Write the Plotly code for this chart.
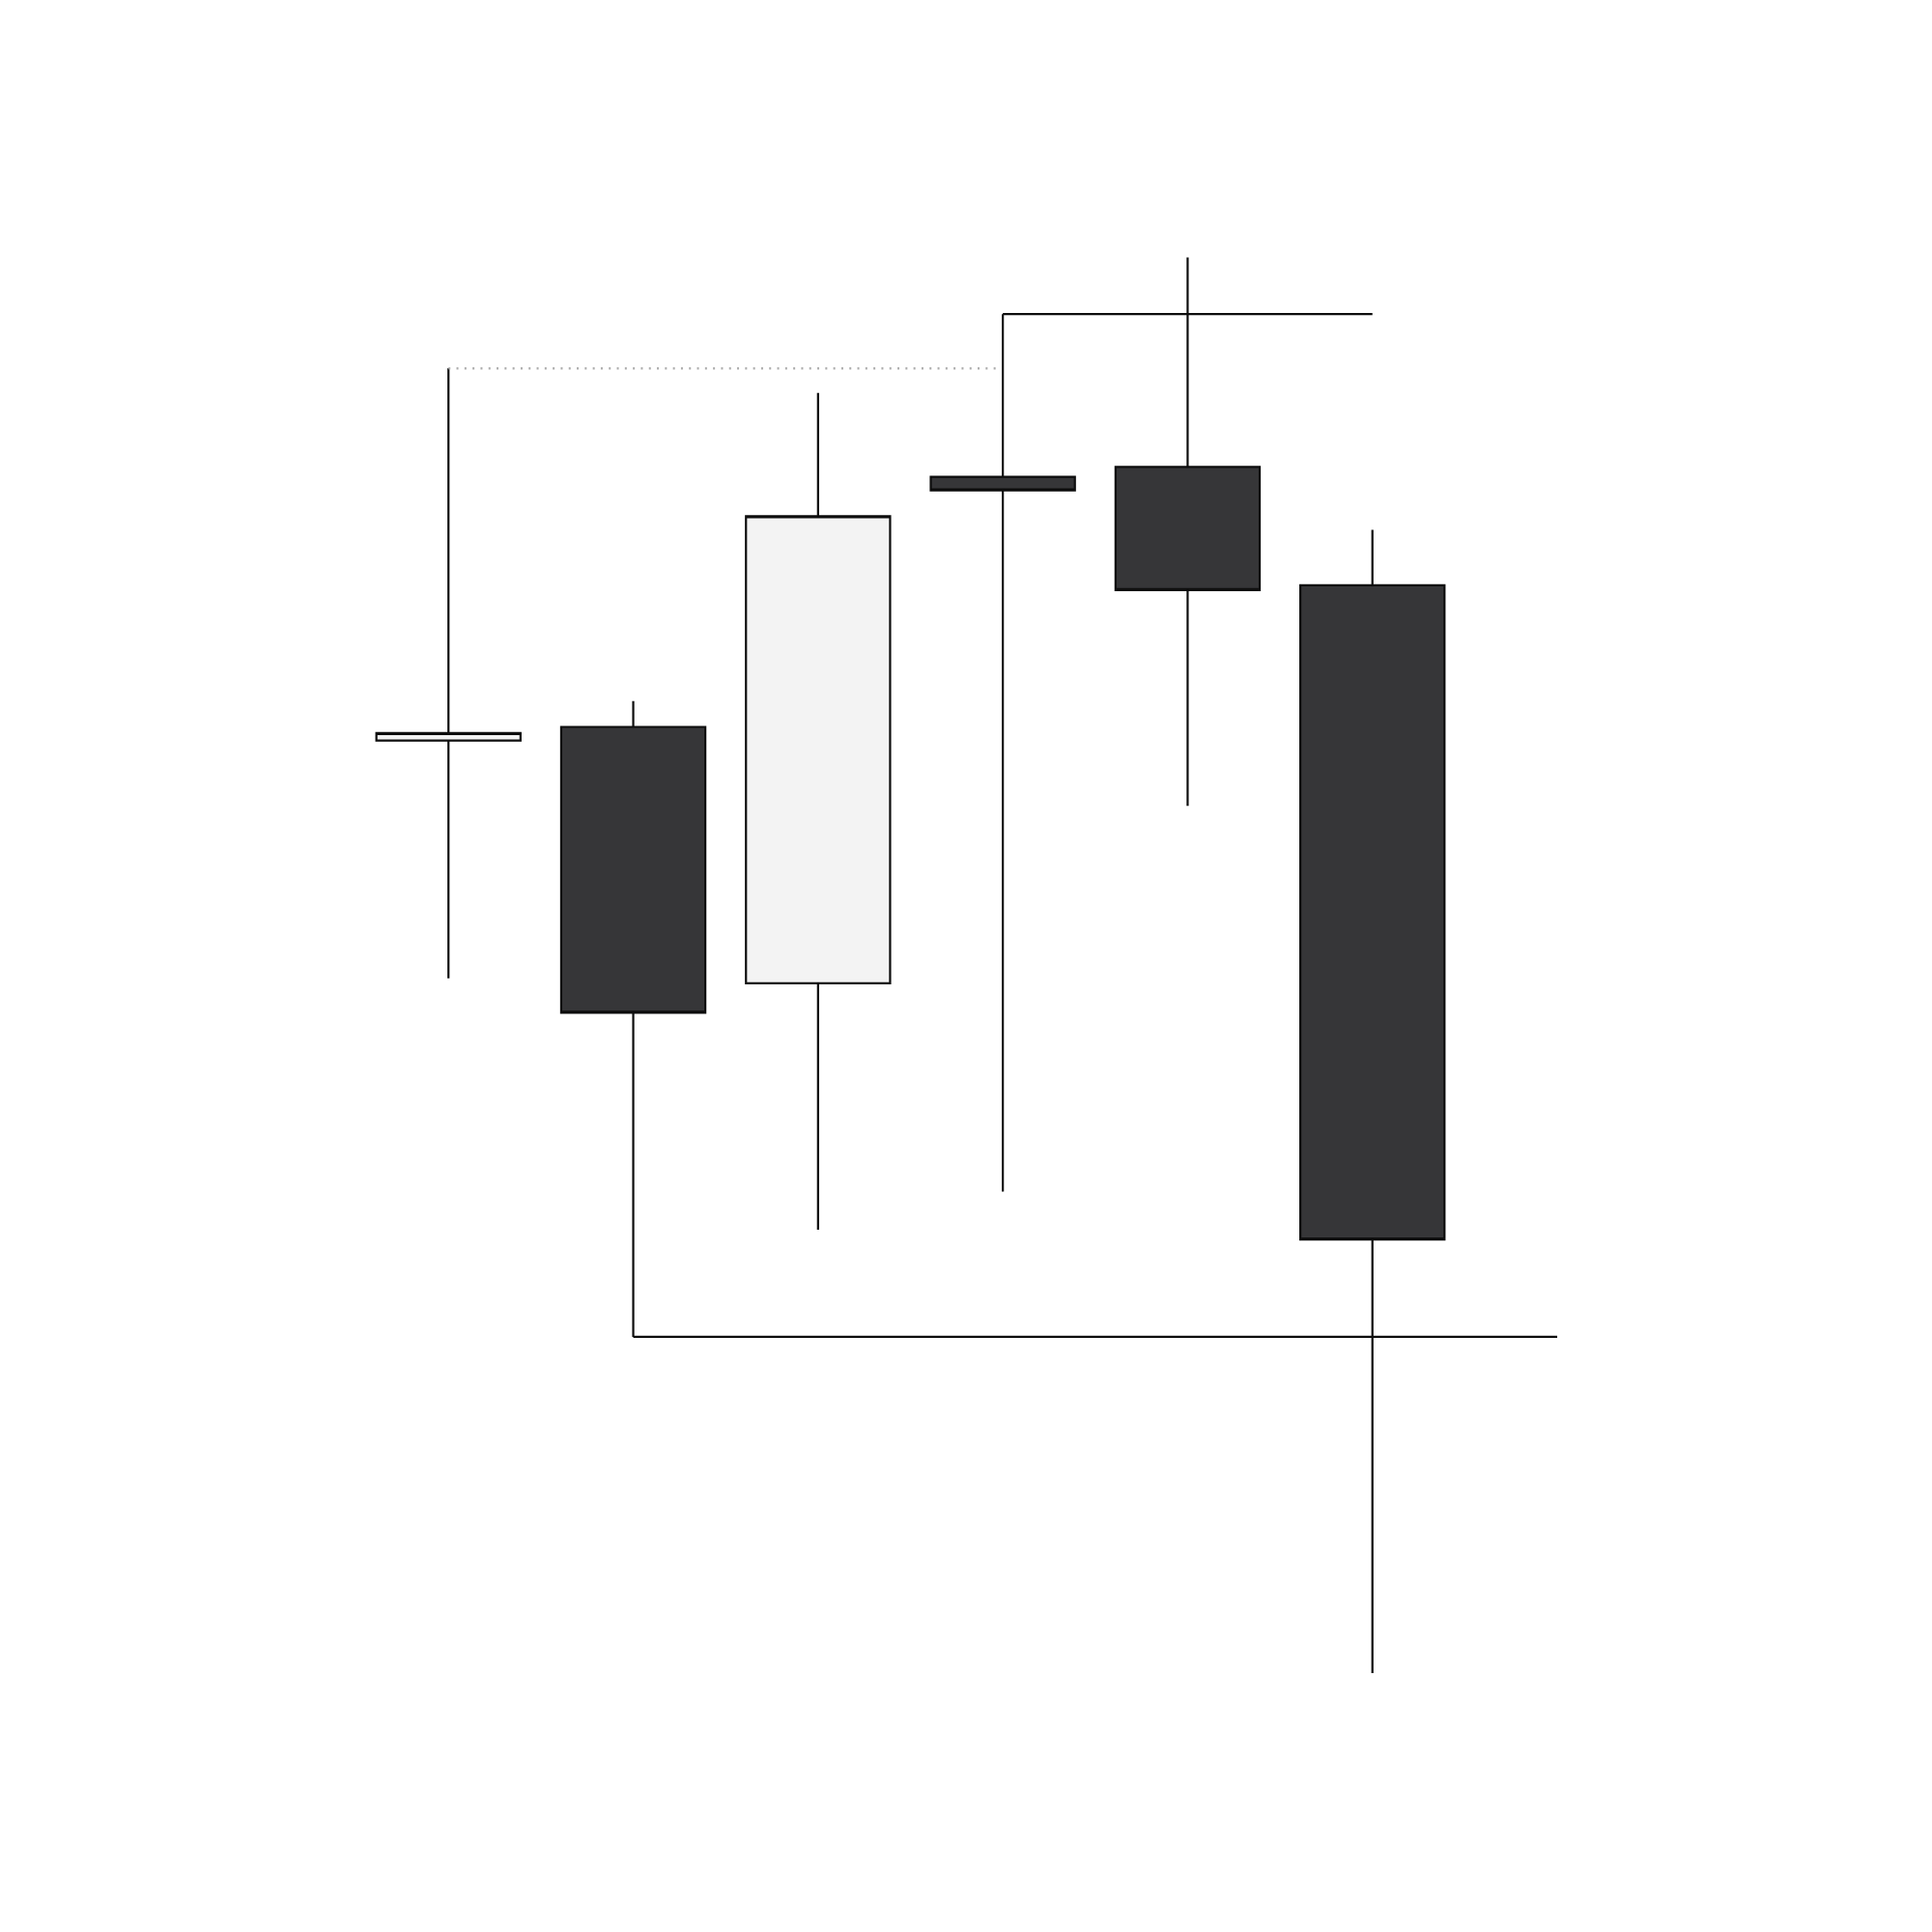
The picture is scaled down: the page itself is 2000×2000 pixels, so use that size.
import plotly.graph_objs as go

# candle data (price units)
x_idx = [0, 1, 2, 3, 4, 5]
opens = [79.9, 81.0, 60.2, 101.3, 102.1, 92.5]
highs = [110.1, 83.1, 108.1, 114.5, 119.1, 97.0]
lows = [60.6, 31.5, 40.2, 43.3, 74.6, 4.2]
closes = [80.5, 57.8, 98.1, 100.2, 92.1, 39.4]

fig = go.Figure()

fig.add_trace(go.Candlestick(
    x=x_idx, open=opens, high=highs, low=lows, close=closes,
    increasing=dict(fillcolor="#f3f3f3", line=dict(color="#0d0d0d", width=2.2)),
    decreasing=dict(fillcolor="#363638", line=dict(color="#0d0d0d", width=2.2)),
    whiskerwidth=0,
    showlegend=False,
    hoverinfo="skip",
))

# dotted reference from first high to 4th candle
fig.add_trace(go.Scatter(
    x=[x_idx[0], x_idx[3] - 0.03], y=[highs[0], highs[0]],
    mode="lines", line=dict(color="#a8a8a8", width=2.2, dash="2px,6.3px"),
    showlegend=False, hoverinfo="skip",
))
# resistance from 4th high to last candle
fig.add_trace(go.Scatter(
    x=[x_idx[3], x_idx[5]], y=[highs[3], highs[3]],
    mode="lines", line=dict(color="#0d0d0d", width=2.2),
    showlegend=False, hoverinfo="skip",
))
# support from 2nd low past the last candle
fig.add_trace(go.Scatter(
    x=[x_idx[1], x_idx[5] + 1], y=[lows[1], lows[1]],
    mode="lines", line=dict(color="#0d0d0d", width=2.2),
    showlegend=False, hoverinfo="skip",
))

fig.update_layout(
    width=2000,
    height=2000,
    margin=dict(l=0, r=0, t=0, b=0),
    paper_bgcolor="white",
    plot_bgcolor="white",
    boxgap=0.22,
    boxgroupgap=0,
    showlegend=False,
    xaxis=dict(visible=False, range=[-2.385, 8.070], rangeslider=dict(visible=False)),
    yaxis=dict(visible=False, range=[-17.43, 139.37]),
)

fig.write_html("out.html")
